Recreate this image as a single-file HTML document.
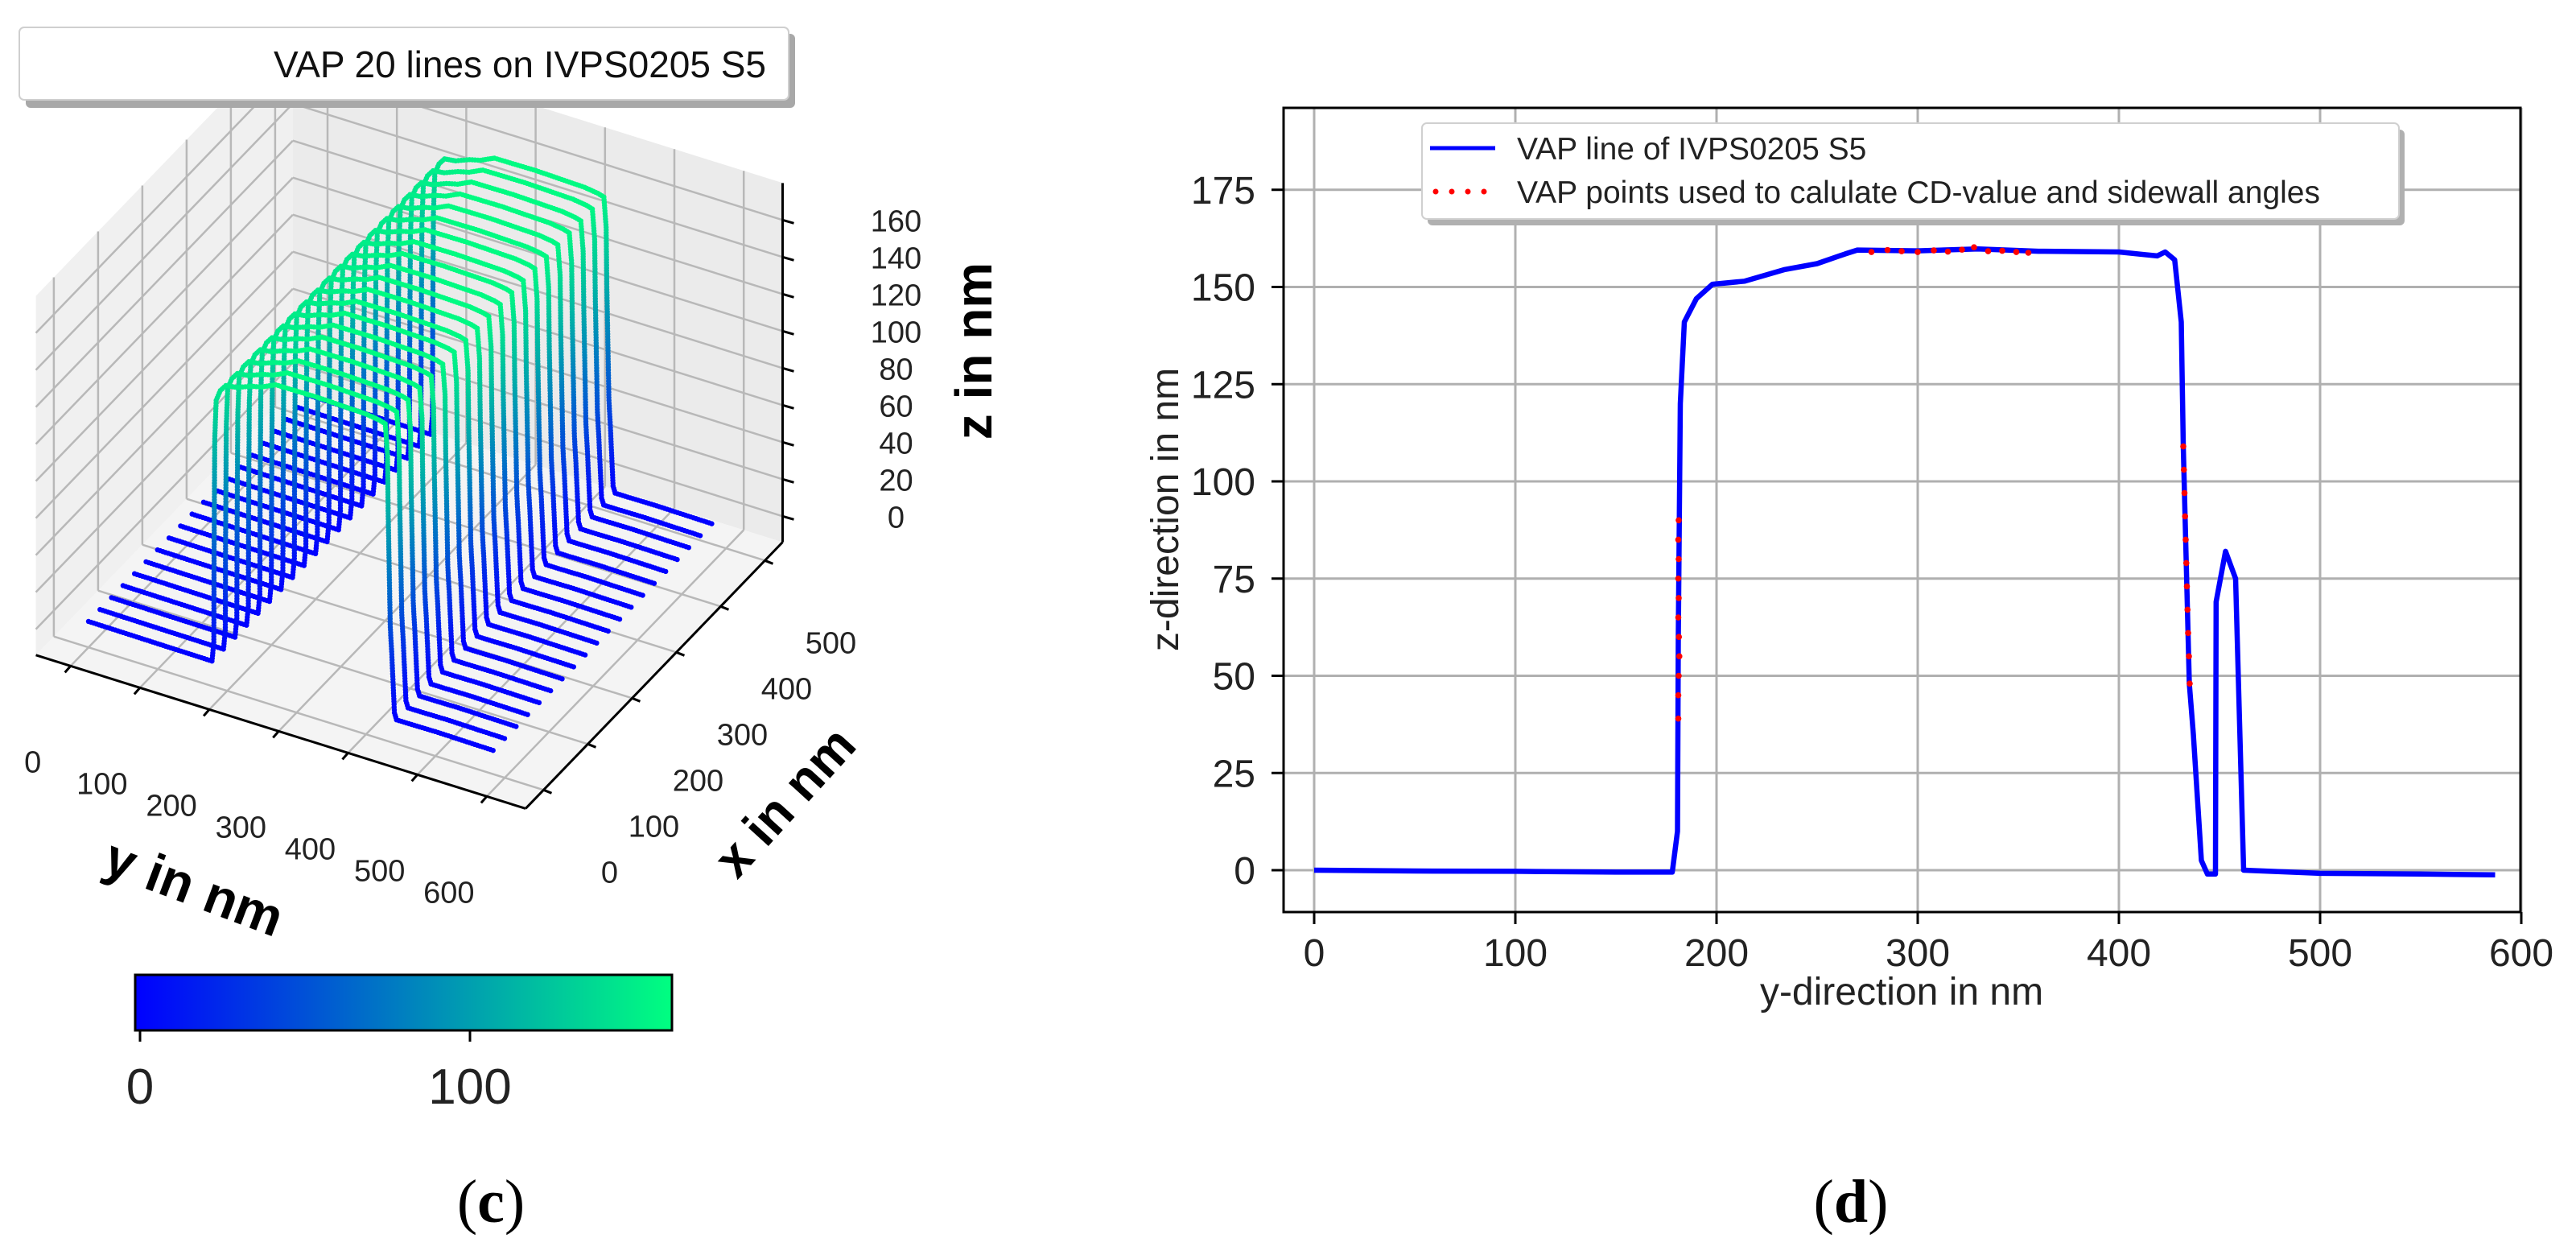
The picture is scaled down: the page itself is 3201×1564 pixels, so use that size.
<!DOCTYPE html>
<html><head><meta charset="utf-8"><title>VAP figure</title>
<style>
html,body{margin:0;padding:0;background:#fff;}
svg{display:block;font-family:"Liberation Sans",sans-serif;}
</style></head>
<body>
<svg id="fig" width="3201" height="1564" viewBox="0 0 3201 1564" xmlns="http://www.w3.org/2000/svg">
  <g id="left3d"></g>
  <g id="right2d"></g>
  <text x="610" y="1518" font-family="Liberation Serif, serif" font-size="76" text-anchor="middle">(<tspan font-weight="bold">c</tspan>)</text>
  <text x="2300" y="1518" font-family="Liberation Serif, serif" font-size="76" text-anchor="middle">(<tspan font-weight="bold">d</tspan>)</text>
</svg>
<script>
// ---- data ----
const profileY = [0,50,100,150,178,180.6,181,182,184,186,190,198,214,234,250,264,270,300,330,360,400,419,423,427.7,431,432,435,437,441,444,448,448.3,453,458,462,500,550,587];
const profileZ = [0,-0.2,-0.3,-0.5,-0.5,10,60,120,141,143,147,150.7,151.5,154.5,156,158.5,159.5,159.3,159.8,159.2,159,158,159,157,141,109,48,35,2.5,-1,-1,69,82,75,0,-0.8,-1,-1.2];
const profile3dY = [0,100,178,180.6,181,182,184,190,198,214,234,250,264,270,330,400,419,427.7,431,432,435,437,441,444,462,500,587];
const profile3dZ = [0,-0.3,-0.5,10,60,120,141,147,150.7,151.5,154.5,156,158.5,159.5,159.8,159,158,157,141,109,48,35,2.5,-1,-1,-0.8,-1.2];
const redLeftZ = [39,45,50,55,60,65,70,75,80,85,90];
const redLeftY = [181,181,181.2,181.5,181.3,181,181.2,181,181.2,181,181.2];
const redTopY = [277,285,292,300,308,315,322,328,335,342,349,355];
const redTopZ = [159,159.5,159.2,159,159.4,159.1,159.6,160.2,159.2,159.3,159,158.8];
const redRightZ = [109,103,97,91,85,79,73,67,61,55,48];
const redRightY = [432,432.3,432.6,432.9,433.2,433.5,433.8,434.1,434.4,434.8,435.2];
const xTicks = [0,100,200,300,400,500,600];
const zTicks = [0,25,50,75,100,125,150,175];
const lineXs = [0,26,52,78,104,130,156,182,208,234,260,286,312,338,364,390,416,442,468,494];
const yTicks3d = [0,100,200,300,400,500,600];
const xTicks3d = [0,100,200,300,400,500];
const zTicks3d = [0,20,40,60,80,100,120,140,160];
const cbarTicks = [0,100];

const NS = "http://www.w3.org/2000/svg";
function mk(parent, tag, attrs, text){
  const e = document.createElementNS(NS, tag);
  for (const k in attrs) e.setAttribute(k, attrs[k]);
  if (text !== undefined) e.textContent = text;
  parent.appendChild(e);
  return e;
}

// ================= right chart =================
const R = document.getElementById('right2d');
const X = v => 1633 + v*2.50;
const Y = z => 1081 - z*4.83;
const bx0=1595,bx1=3132,by0=134,by1=1133;
mk(R,'rect',{x:bx0,y:by0,width:bx1-bx0,height:by1-by0,fill:'#fff'});
xTicks.forEach(t=>{
  const g=mk(R,'line',{x1:X(t),x2:X(t),y1:by0,y2:by1,stroke:'#b0b0b0','stroke-width':3});
  
  
  mk(R,'line',{x1:X(t),x2:X(t),y1:by1,y2:by1+15,stroke:'#000','stroke-width':3});
  const l=mk(R,'text',{x:X(t),y:1200,'font-size':48,'text-anchor':'middle',fill:'#222'},String(t));
  
  
});
zTicks.forEach(t=>{
  const g=mk(R,'line',{x1:bx0,x2:bx1,y1:Y(t),y2:Y(t),stroke:'#b0b0b0','stroke-width':3});
  
  
  mk(R,'line',{x1:bx0-15,x2:bx0,y1:Y(t),y2:Y(t),stroke:'#000','stroke-width':3});
  const l=mk(R,'text',{x:1560,y:Y(t)+17,'font-size':48,'text-anchor':'end',fill:'#222'},String(t));
  
  
});
const pts = profileY.map((v,i)=>X(v).toFixed(1)+','+Y(profileZ[i]).toFixed(1)).join(' ');
const pl = mk(R,'polyline',{points:pts,fill:'none',stroke:'#0000ff','stroke-width':6.5,'stroke-linejoin':'round'});


function redDots(ys,zs){
  ys.forEach((v,i)=>{
    const c=mk(R,'circle',{cx:X(v),cy:Y(zs[i]),r:3.8,fill:'#ff0000'});
    
    
  });
}
redDots(redLeftY,redLeftZ); redDots(redTopY,redTopZ); redDots(redRightY,redRightZ);
mk(R,'rect',{x:bx0,y:by0,width:bx1-bx0,height:by1-by0,fill:'none',stroke:'#000','stroke-width':3});
const xl=mk(R,'text',{x:2363,y:1248,'font-size':48,'text-anchor':'middle',fill:'#222'},'y-direction in nm');


const yl=mk(R,'text',{x:1464,y:633,'font-size':48,'text-anchor':'middle',fill:'#222',transform:'rotate(-90 1464 633)'},'z-direction in nm');


// legend
const LG = mk(R,'g',{});


mk(LG,'rect',{x:1774,y:161,width:1214,height:119,rx:6,fill:'#b0b0b0'});
mk(LG,'rect',{x:1767,y:153,width:1214,height:119,rx:6,fill:'#fff',stroke:'#d0d0d0','stroke-width':2});
mk(LG,'line',{x1:1777,x2:1858,y1:184,y2:184,stroke:'#0000ff','stroke-width':5});
[1784,1804,1824,1844].forEach(x=>mk(LG,'circle',{cx:x,cy:238,r:3.5,fill:'#ff0000'}));
const le1=mk(LG,'text',{x:1885,y:198,'font-size':39,fill:'#222'},'VAP line of IVPS0205 S5');


const le2=mk(LG,'text',{x:1885,y:252,'font-size':39,fill:'#222'},'VAP points used to calulate CD-value and  sidewall angles');



// ================= left 3D chart =================
const L = document.getElementById('left3d');
const ymin=-50,ymax=656,xmin=-40.6,xmax=540,zmin=-14,zmax=180;
function P(y,x,z){ return [110+0.862*y+0.55*x, 772+0.27*y-0.57*x-2.3*z]; }
function poly(arr){ return arr.map(p=>p[0].toFixed(1)+','+p[1].toFixed(1)).join(' '); }
const pf=mk(L,'polygon',{points:poly([P(ymin,xmin,zmin),P(ymax,xmin,zmin),P(ymax,xmax,zmin),P(ymin,xmax,zmin)]),fill:'#f4f4f4'});


const pl1=mk(L,'polygon',{points:poly([P(ymin,xmin,zmin),P(ymin,xmax,zmin),P(ymin,xmax,zmax),P(ymin,xmin,zmax)]),fill:'#f0f0f0'});


const pb=mk(L,'polygon',{points:poly([P(ymin,xmax,zmin),P(ymax,xmax,zmin),P(ymax,xmax,zmax),P(ymin,xmax,zmax)]),fill:'#ebebeb'});


function gl(a,b){ mk(L,'line',{x1:a[0],y1:a[1],x2:b[0],y2:b[1],stroke:'#b8b8b8','stroke-width':2.5}); }
yTicks3d.forEach(t=>{ gl(P(t,xmin,zmin),P(t,xmax,zmin)); gl(P(t,xmax,zmin),P(t,xmax,zmax)); });
xTicks3d.forEach(t=>{ gl(P(ymin,t,zmin),P(ymax,t,zmin)); gl(P(ymin,t,zmin),P(ymin,t,zmax)); });
zTicks3d.forEach(t=>{ gl(P(ymin,xmin,t),P(ymin,xmax,t)); gl(P(ymin,xmax,t),P(ymax,xmax,t)); });
function col(z){ const g=Math.max(0,Math.min(1,z/162)); return 'rgb(0,'+Math.round(255*g)+','+Math.round(255*(1-0.5*g))+')'; }
const dataG = mk(L,'g',{});


for (let li=lineXs.length-1; li>=0; li--){
  const xv=lineXs[li];
  for (let k=0;k<profile3dY.length-1;k++){
    const a=P(profile3dY[k],xv,profile3dZ[k]), b=P(profile3dY[k+1],xv,profile3dZ[k+1]);
    const d=Math.hypot(b[0]-a[0],b[1]-a[1]);
    const n=Math.max(1,Math.ceil(d/3.5));
    for (let s=0;s<n;s++){
      const f=s/n;
      const z=profile3dZ[k]+(profile3dZ[k+1]-profile3dZ[k])*f;
      const c=mk(dataG,'circle',{cx:(a[0]+(b[0]-a[0])*f).toFixed(1),cy:(a[1]+(b[1]-a[1])*f).toFixed(1),r:3.2,fill:col(z)});
      
      
    }
  }
}
function ax(a,b){ mk(L,'line',{x1:a[0],y1:a[1],x2:b[0],y2:b[1],stroke:'#000','stroke-width':3}); }
ax(P(ymin,xmin,zmin),P(ymax,xmin,zmin));
ax(P(ymax,xmin,zmin),P(ymax,xmax,zmin));
ax(P(ymax,xmax,zmin),P(ymax,xmax,zmax));
yTicks3d.forEach(t=>{
  const p=P(t,xmin,zmin); ax(p,[p[0]-7,p[1]+8]);
  const l=mk(L,'text',{x:p[0]-47,y:p[1]+132,'font-size':38,'text-anchor':'middle',fill:'#222'},String(t));
  
  
});
xTicks3d.forEach(t=>{
  const p=P(ymax,t,zmin); ax(p,[p[0]+10,p[1]+4]);
  const l=mk(L,'text',{x:p[0]+82,y:p[1]+115,'font-size':38,'text-anchor':'middle',fill:'#222'},String(t));
  
  
});
zTicks3d.forEach(t=>{
  const p=P(ymax,xmax,t); ax(p,[p[0]+14,p[1]+4]);
  const l=mk(L,'text',{x:p[0]+141,y:p[1]+14,'font-size':38,'text-anchor':'middle',fill:'#222'},String(t));
  
  
});
const zt=mk(L,'text',{x:1210,y:436,'font-size':64,'font-weight':'bold','text-anchor':'middle',fill:'#000',transform:'rotate(-90 1210 436)',dy:22},'z in nm');


const yt=mk(L,'text',{x:241,y:1125,'font-size':66,'font-weight':'bold','text-anchor':'middle',fill:'#000',transform:'rotate(20.7 241 1103)'},'y in nm');


const xt=mk(L,'text',{x:975,y:1018,'font-size':64,'font-weight':'bold','text-anchor':'middle',fill:'#000',transform:'rotate(-47.8 975 996)'},'x in nm');


const TB=mk(L,'g',{});


mk(TB,'rect',{x:32,y:42,width:956,height:92,rx:6,fill:'#a8a8a8'});
mk(TB,'rect',{x:24,y:34,width:956,height:90,rx:6,fill:'#fff',stroke:'#cfcfcf','stroke-width':2});
const tt=mk(TB,'text',{x:952,y:96,'font-size':46,'text-anchor':'end',fill:'#111'},'VAP 20 lines on IVPS0205 S5');


const defs=mk(L,'defs',{});
const lgd=mk(defs,'linearGradient',{id:'winter',x1:0,x2:1,y1:0,y2:0});
mk(lgd,'stop',{offset:0,'stop-color':'rgb(0,0,255)'});
mk(lgd,'stop',{offset:1,'stop-color':'rgb(0,255,128)'});
const cb=mk(L,'rect',{x:168,y:1211,width:667,height:69,fill:'url(#winter)',stroke:'#000','stroke-width':3});


cbarTicks.forEach(t=>{
  const x=174+t*4.1;
  mk(L,'line',{x1:x,x2:x,y1:1280,y2:1294,stroke:'#000','stroke-width':3});
  const l=mk(L,'text',{x:x,y:1371,'font-size':62,'text-anchor':'middle',fill:'#222'},String(t));
  
  
});
</script>
</body></html>
